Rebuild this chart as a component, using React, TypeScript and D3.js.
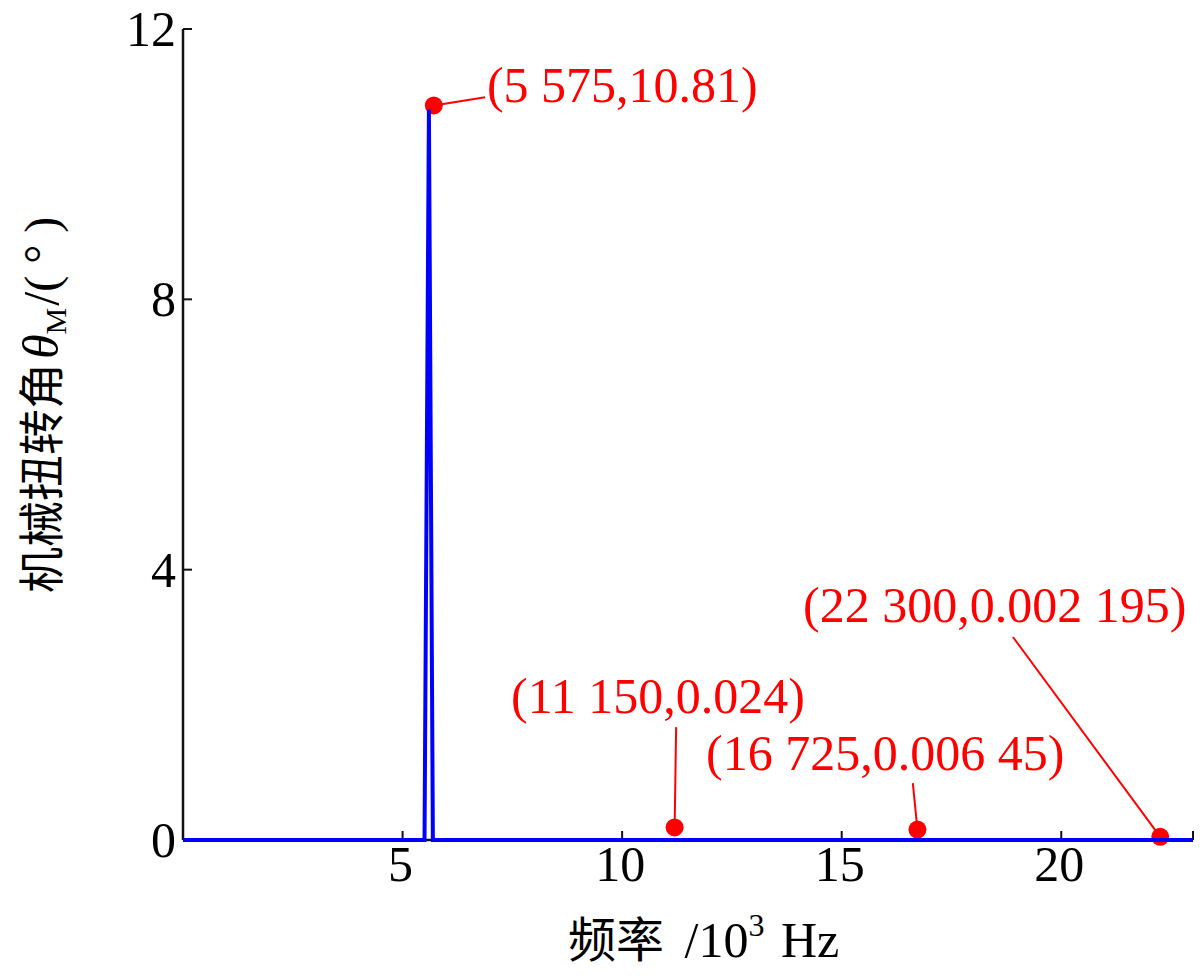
import React from "react";
import * as d3 from "d3";

// ---- data ----
const freqK = [0, 5.5, 5.6, 5.69, 23]; // kHz
const theta = [0, 0, 10.81, 0, 0]; // degrees

const xTicks = [5, 10, 15, 20];
const yTicks = [0, 4, 8, 12];

const annFreq = [5.575, 11.15, 16.725, 22.3];
const annVal = [10.81, 0.024, 0.00645, 0.002195];
const annLabels = ["(5 575,10.81)", "(11 150,0.024)", "(16 725,0.006 45)", "(22 300,0.002 195)"];
// label anchor (data units: kHz, degrees)
const annTextX = [6.92, 7.47, 11.91, 14.12];
const annTextY = [10.92, 1.88, 1.036, 3.226];
// leader line start (data units)
const annLeadX = [6.88, 11.23, 16.62, 18.9];
const annLeadY = [10.99, 1.67, 0.843, 3.004];
// marker pixel nudges (style)
const markerDx = [6, 2, 0, -2];
const markerDy = [-4, -11, -10, -3];

const W = 1200;
const H = 978;
const SERIF = "'Liberation Serif', 'Times New Roman', serif";
const CJK = "'Noto Sans CJK SC', sans-serif";

export default function App() {
  React.useEffect(() => {
    document.body.style.margin = "0";
  }, []);

  const x = d3.scaleLinear().domain([0, 23]).range([183, 1193]);
  const y = d3.scaleLinear().domain([0, 12]).range([840, 29]);

  const line = d3
    .line<number>()
    .x((_, i) => x(freqK[i]))
    .y((d) => y(d));

  const tickLen = 9;

  return (
    <svg
      width={W}
      height={H}
      viewBox={`0 0 ${W} ${H}`}
      style={{ position: "absolute", left: 0, top: 0, display: "block", background: "#fff" }}
    >
      <rect x={0} y={0} width={W} height={H} fill="#fff" />
      {/* axes */}
      <g stroke="#111" strokeWidth={2.5} fill="none">
        <line x1={x(0)} x2={x(0)} y1={y(12)} y2={y(0)} />
        <line x1={x(0)} x2={x(23)} y1={y(0)} y2={y(0)} />
        {yTicks.map((t) => (
          <line key={"yt" + t} x1={x(0)} x2={x(0) + tickLen} y1={y(t)} y2={y(t)} strokeWidth={2} />
        ))}
        {[...xTicks, 23].map((t) => (
          <line key={"xt" + t} x1={x(t)} x2={x(t)} y1={y(0)} y2={y(0) - tickLen} strokeWidth={2} />
        ))}
      </g>
      {/* tick labels */}
      <g fontFamily={SERIF} fontSize={50} fill="#000">
        {yTicks.map((t) => (
          <text key={"yl" + t} x={x(0) - 7} y={y(t) + 17} textAnchor="end">
            {t}
          </text>
        ))}
        {xTicks.map((t) => (
          <text key={"xl" + t} x={x(t) - 2} y={881} textAnchor="middle">
            {t}
          </text>
        ))}
      </g>

      {/* annotation markers under the line */}
      <g fill="#ff0000">
        {annFreq.map((f, i) => (
          <circle key={"m" + i} cx={x(f) + markerDx[i]} cy={y(annVal[i]) + markerDy[i]} r={9} />
        ))}
      </g>

      {/* series */}
      <path d={line(theta) || ""} fill="none" stroke="#0000ff" strokeWidth={4} strokeLinejoin="miter" />

      {/* leader lines & labels */}
      <g stroke="#ff0000" strokeWidth={2}>
        {annFreq.map((f, i) => (
          <line
            key={"ld" + i}
            x1={x(annLeadX[i])}
            y1={y(annLeadY[i])}
            x2={x(f) + markerDx[i]}
            y2={y(annVal[i]) + markerDy[i]}
          />
        ))}
      </g>
      <g fontFamily={SERIF} fontSize={50} fill="#ff0000">
        {annLabels.map((s, i) => (
          <text key={"al" + i} x={x(annTextX[i])} y={y(annTextY[i])}>
            {s}
          </text>
        ))}
      </g>

      {/* x axis title */}
      <text x={568} y={957} fontSize={50} fill="#000" fontFamily={SERIF}>
        <tspan fontFamily={CJK} fontSize={48}>频率</tspan>
        <tspan dx={8}> /10</tspan>
        <tspan fontSize={32} dy={-21}>3</tspan>
        <tspan dy={21} dx={4}> Hz</tspan>
      </text>

      {/* y axis title */}
      <text
        transform="translate(58,593) rotate(-90)"
        fontSize={46}
        fill="#000"
        fontFamily={SERIF}
      >
        <tspan fontFamily={CJK}>机械扭转角</tspan>
        <tspan fontStyle="italic" fontSize={50} dx={4}>θ</tspan>
        <tspan fontSize={30} dy={8}>M</tspan>
        <tspan fontSize={50} dy={-8} dx={2}>/</tspan>
        <tspan fontSize={48}>( ° )</tspan>
      </text>
    </svg>
  );
}
